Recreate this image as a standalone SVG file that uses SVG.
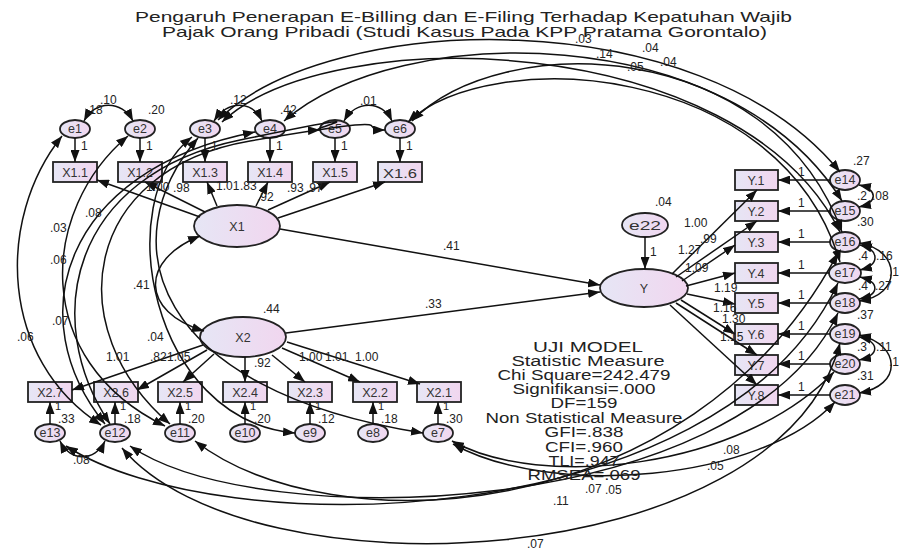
<svg xmlns="http://www.w3.org/2000/svg" width="899" height="551" viewBox="0 0 899 551">
<defs>
<linearGradient id="g" x1="0" y1="0" x2="1" y2="0"><stop offset="0" stop-color="#e6e6f5"/><stop offset="1" stop-color="#f1d6ef"/></linearGradient>
<marker id="ah" viewBox="0 0 12 9" refX="12" refY="4.5" markerWidth="12" markerHeight="9" markerUnits="userSpaceOnUse" orient="auto-start-reverse"><path d="M0,0 L12,4.5 L0,9 z" fill="#111"/></marker>
<style>
.n{fill:url(#g);stroke:#222;stroke-width:1.8}
.t{font-family:"Liberation Sans",Arial,sans-serif;fill:#222}
.nt{font-family:"Liberation Sans",Arial,sans-serif;fill:#333;font-size:12.5px;text-anchor:middle}
.lb{font-family:"Liberation Sans",Arial,sans-serif;fill:#222;font-size:12px}
.c{fill:none;stroke:#111;stroke-width:1.5}
.a{marker-end:url(#ah)}
.d{marker-start:url(#ah);marker-end:url(#ah)}
</style>
</defs>
<rect width="899" height="551" fill="#fff"/>
<g id="title" class="t" font-size="14.5">
<text x="135" y="22" textLength="657" lengthAdjust="spacingAndGlyphs">Pengaruh Penerapan E-Billing dan E-Filing Terhadap Kepatuhan Wajib</text>
<text x="162" y="37" textLength="605" lengthAdjust="spacingAndGlyphs">Pajak Orang Pribadi (Studi Kasus Pada KPP Pratama Gorontalo)</text>
</g>
<g id="nodes">
<g id="e1"><ellipse class="n" cx="75" cy="129" rx="15" ry="9"/><text class="nt" x="75" y="133" font-size="11.5">e1</text></g>
<g id="e2"><ellipse class="n" cx="140" cy="129" rx="15" ry="9"/><text class="nt" x="140" y="133" font-size="11.5">e2</text></g>
<g id="e3"><ellipse class="n" cx="205" cy="129" rx="15" ry="9"/><text class="nt" x="205" y="133" font-size="11.5">e3</text></g>
<g id="e4"><ellipse class="n" cx="270" cy="129" rx="15" ry="9"/><text class="nt" x="270" y="133" font-size="11.5">e4</text></g>
<g id="e5"><ellipse class="n" cx="335" cy="129" rx="15" ry="9"/><text class="nt" x="335" y="133" font-size="11.5">e5</text></g>
<g id="e6"><ellipse class="n" cx="400" cy="129" rx="15" ry="9"/><text class="nt" x="400" y="133" font-size="11.5">e6</text></g>
<g id="X1.1"><rect class="n" x="53" y="162" width="44" height="20"/><text class="nt" x="75" y="177">X1.1</text></g>
<g id="X1.2"><rect class="n" x="118" y="162" width="44" height="20"/><text class="nt" x="140" y="177">X1.2</text></g>
<g id="X1.3"><rect class="n" x="183" y="162" width="44" height="20"/><text class="nt" x="205" y="177">X1.3</text></g>
<g id="X1.4"><rect class="n" x="248" y="162" width="44" height="20"/><text class="nt" x="270" y="177">X1.4</text></g>
<g id="X1.5"><rect class="n" x="313" y="162" width="44" height="20"/><text class="nt" x="335" y="177">X1.5</text></g>
<g id="X1.6"><rect class="n" x="378" y="162" width="44" height="20"/><text class="nt" x="400" y="178" font-size="16" textLength="34" lengthAdjust="spacingAndGlyphs">X1.6</text></g>
<g id="X1"><ellipse class="n" cx="237" cy="226" rx="43" ry="21"/><text class="nt" x="237" y="231" font-size="15">X1</text></g>
<g id="X2"><ellipse class="n" cx="243" cy="337" rx="43" ry="20"/><text class="nt" x="243" y="342" font-size="15">X2</text></g>
<g id="X2.7"><rect class="n" x="28" y="382" width="44" height="20"/><text class="nt" x="50" y="397">X2.7</text></g>
<g id="X2.6"><rect class="n" x="94" y="382" width="44" height="20"/><text class="nt" x="116" y="397">X2.6</text></g>
<g id="X2.5"><rect class="n" x="158" y="382" width="44" height="20"/><text class="nt" x="180" y="397">X2.5</text></g>
<g id="X2.4"><rect class="n" x="223" y="382" width="44" height="20"/><text class="nt" x="245" y="397">X2.4</text></g>
<g id="X2.3"><rect class="n" x="288" y="382" width="44" height="20"/><text class="nt" x="310" y="397">X2.3</text></g>
<g id="X2.2"><rect class="n" x="353" y="382" width="44" height="20"/><text class="nt" x="375" y="397">X2.2</text></g>
<g id="X2.1"><rect class="n" x="417" y="382" width="44" height="20"/><text class="nt" x="439" y="397">X2.1</text></g>
<g id="e13"><ellipse class="n" cx="50" cy="433" rx="15" ry="9"/><text class="nt" x="50" y="437" font-size="11.5">e13</text></g>
<g id="e12"><ellipse class="n" cx="115" cy="433" rx="15" ry="9"/><text class="nt" x="115" y="437" font-size="11.5">e12</text></g>
<g id="e11"><ellipse class="n" cx="180" cy="433" rx="15" ry="9"/><text class="nt" x="180" y="437" font-size="11.5">e11</text></g>
<g id="e10"><ellipse class="n" cx="245" cy="433" rx="15" ry="9"/><text class="nt" x="245" y="437" font-size="11.5">e10</text></g>
<g id="e9"><ellipse class="n" cx="310" cy="433" rx="15" ry="9"/><text class="nt" x="310" y="437" font-size="11.5">e9</text></g>
<g id="e8"><ellipse class="n" cx="373" cy="433" rx="15" ry="9"/><text class="nt" x="373" y="437" font-size="11.5">e8</text></g>
<g id="e7"><ellipse class="n" cx="438" cy="433" rx="15" ry="9"/><text class="nt" x="438" y="437" font-size="11.5">e7</text></g>
<g id="e22"><ellipse class="n" cx="645" cy="225" rx="23" ry="12"/><text class="nt" x="645" y="230" font-size="15" textLength="32" lengthAdjust="spacingAndGlyphs">e22</text></g>
<g id="Y"><ellipse class="n" cx="644" cy="288" rx="44" ry="19"/><text class="nt" x="644" y="293" font-size="15">Y</text></g>
<g id="Y.1"><rect class="n" x="735" y="170" width="43" height="20"/><text class="nt" x="756" y="185" font-size="13">Y.1</text></g>
<g id="Y.2"><rect class="n" x="735" y="201" width="43" height="20"/><text class="nt" x="756" y="216" font-size="13">Y.2</text></g>
<g id="Y.3"><rect class="n" x="735" y="232" width="43" height="20"/><text class="nt" x="756" y="247" font-size="13">Y.3</text></g>
<g id="Y.4"><rect class="n" x="735" y="263" width="43" height="20"/><text class="nt" x="756" y="278" font-size="13">Y.4</text></g>
<g id="Y.5"><rect class="n" x="735" y="293" width="43" height="20"/><text class="nt" x="756" y="308" font-size="13">Y.5</text></g>
<g id="Y.6"><rect class="n" x="735" y="324" width="43" height="20"/><text class="nt" x="756" y="339" font-size="13">Y.6</text></g>
<g id="Y.7"><rect class="n" x="735" y="355" width="43" height="20"/><text class="nt" x="756" y="370" font-size="13">Y.7</text></g>
<g id="Y.8"><rect class="n" x="735" y="385" width="43" height="20"/><text class="nt" x="756" y="400" font-size="13">Y.8</text></g>
<g id="e14"><ellipse class="n" cx="845" cy="180" rx="15" ry="10"/><text class="nt" x="845" y="184" font-size="12">e14</text></g>
<g id="e15"><ellipse class="n" cx="845" cy="211" rx="15" ry="10"/><text class="nt" x="845" y="215" font-size="12">e15</text></g>
<g id="e16"><ellipse class="n" cx="845" cy="242" rx="15" ry="10"/><text class="nt" x="845" y="246" font-size="12">e16</text></g>
<g id="e17"><ellipse class="n" cx="845" cy="273" rx="16" ry="10"/><text class="nt" x="845" y="277" font-size="12">e17</text></g>
<g id="e18"><ellipse class="n" cx="845" cy="303" rx="15" ry="10"/><text class="nt" x="845" y="307" font-size="12">e18</text></g>
<g id="e19"><ellipse class="n" cx="845" cy="334" rx="15" ry="10"/><text class="nt" x="845" y="338" font-size="12">e19</text></g>
<g id="e20"><ellipse class="n" cx="845" cy="364" rx="15" ry="10"/><text class="nt" x="845" y="368" font-size="12">e20</text></g>
<g id="e21"><ellipse class="n" cx="845" cy="395" rx="15" ry="10"/><text class="nt" x="845" y="399" font-size="12">e21</text></g>
</g>
<g id="connectors">
<path class="c a" d="M75,138 L75,162"/><path class="c a" d="M140,138 L140,162"/><path class="c a" d="M205,138 L205,162"/><path class="c a" d="M270,138 L270,162"/><path class="c a" d="M335,138 L335,162"/><path class="c a" d="M400,138 L400,162"/>
<path class="c a" d="M200,217 L97,180"/><path class="c a" d="M205,212 L145,182"/><path class="c a" d="M217,206 L207,182"/><path class="c a" d="M256,206 L268,182"/><path class="c a" d="M268,210 L330,182"/><path class="c a" d="M278,218 L385,182"/>
<path class="c a" d="M203,345 L72,390"/><path class="c a" d="M207,350 L137,390"/><path class="c a" d="M214,354 L183,382"/><path class="c a" d="M245,357 L245,382"/><path class="c a" d="M272,355 L305,382"/><path class="c a" d="M282,348 L360,382"/><path class="c a" d="M287,342 L420,384"/>
<path class="c a" d="M50,424 L50,402"/><path class="c a" d="M115,424 L115,402"/><path class="c a" d="M180,424 L180,402"/><path class="c a" d="M245,424 L245,402"/><path class="c a" d="M310,424 L310,402"/><path class="c a" d="M373,424 L373,402"/><path class="c a" d="M438,424 L438,402"/>
<path class="c a" d="M280,229 L600,285"/><path class="c a" d="M286,333 L600,292"/>
<path class="c a" d="M645,237 L645,269"/>
<path class="c a" d="M672,274 L757,190"/><path class="c a" d="M676,277 L757,221"/><path class="c a" d="M682,281 L735,245"/><path class="c a" d="M686,286 L735,273"/><path class="c a" d="M687,294 L735,304"/><path class="c a" d="M681,300 L735,334"/><path class="c a" d="M676,303 L757,355"/><path class="c a" d="M670,305 L757,385"/>
<path class="c a" d="M830,180 L778,180"/><path class="c a" d="M830,211 L778,211"/><path class="c a" d="M830,242 L778,242"/><path class="c a" d="M829,273 L778,273"/><path class="c a" d="M830,303 L778,303"/><path class="c a" d="M830,334 L778,334"/><path class="c a" d="M830,364 L778,364"/><path class="c a" d="M830,395 L778,395"/>
<path class="c d" d="M84,121 C95,100 122,100 133,121"/>
<path class="c d" d="M214,121 C228,100 252,100 262,121"/>
<path class="c d" d="M344,121 C356,100 382,100 392,121"/>
<path class="c d" d="M200,236 C140,260 140,312 204,331"/>
<path class="c d" d="M60,441 C70,462 95,462 105,441"/>
<path class="c d" d="M859,185 C878,189 878,203 859,207"/>
<path class="c d" d="M860,245 C880,250 880,265 860,270"/>
<path class="c d" d="M859,243 C902,250 902,296 859,301"/>
<path class="c d" d="M860,277 C880,282 880,295 859,299"/>
<path class="c d" d="M859,337 C880,341 880,356 859,360"/>
<path class="c d" d="M859,335 C902,345 902,386 859,393"/>
<path class="c d" d="M62,136 C-5,220 0,360 101,425"/>
<path class="c d" d="M128,136 C40,210 30,360 165,426"/>
<path class="c d" d="M105,424 C20,320 60,170 255,132"/>
<path class="c d" d="M110,424 C40,320 70,175 240,140 S300,131 320,130"/>
<path class="c d" d="M170,424 C60,330 80,170 250,141 S350,130 385,130"/>
<path class="c d" d="M192,137 C110,200 150,420 295,433"/>
<path class="c d" d="M198,138 C110,240 150,390 423,433"/>
<path class="c d" d="M218,120 C330,10 700,0 840,172"/>
<path class="c d" d="M284,121 C400,20 730,20 842,201"/>
<path class="c d" d="M222,122 C330,20 740,30 840,232"/>
<path class="c d" d="M412,121 C500,30 770,35 842,232"/>
<path class="c d" d="M408,122 C490,45 780,60 840,262"/>
<path class="c d" d="M66,446 C220,545 720,535 838,283"/>
<path class="c d" d="M130,446 C260,535 740,520 838,313"/>
<path class="c d" d="M122,448 C250,600 780,575 840,343"/>
<path class="c d" d="M195,441 C330,545 690,530 838,253"/>
<path class="c d" d="M452,441 C540,490 740,470 834,372"/>
<path class="c d" d="M453,444 C550,498 760,482 835,402"/>
</g>
<g id="labels" class="lb">
<text x="100" y="104">.10</text><text x="86" y="114">.18</text><text x="148" y="114">.20</text><text x="230" y="104">.12</text><text x="280" y="114">.42</text><text x="360" y="105">.01</text>
<text x="81" y="150">1</text><text x="146" y="150">1</text><text x="211" y="150">1</text><text x="276" y="150">1</text><text x="341" y="150">1</text><text x="406" y="150">1</text>
<text x="146" y="191">1.00</text><text x="173" y="192">.98</text><text x="216" y="190">1.01</text><text x="240" y="190">.83</text><text x="257" y="201">.92</text><text x="287" y="192">.93</text><text x="306" y="192">.97</text>
<text x="85" y="217">.08</text><text x="50" y="232">.03</text><text x="50" y="264">.06</text><text x="52" y="325">.07</text><text x="17" y="341">.06</text><text x="147" y="341">.04</text><text x="133" y="289">.41</text>
<text x="263" y="313">.44</text>
<text x="106" y="361">1.01</text><text x="150" y="361">.82</text><text x="167" y="361">1.05</text><text x="254" y="367">.92</text><text x="299" y="361">1.00</text><text x="325" y="361">1.01</text><text x="355" y="361">1.00</text>
<g font-size="11"><text x="55" y="410">1</text><text x="120" y="410">1</text><text x="185" y="410">1</text><text x="250" y="410">1</text><text x="315" y="410">1</text><text x="378" y="410">1</text><text x="443" y="410">1</text></g>
<text x="58" y="423">.33</text><text x="124" y="423">.18</text><text x="188" y="423">.20</text><text x="254" y="423">.20</text><text x="318" y="423">.12</text><text x="381" y="423">.18</text><text x="446" y="423">.30</text>
<text x="73" y="464">.08</text>
<text x="443" y="250">.41</text><text x="425" y="308">.33</text>
<text x="655" y="206">.04</text><text x="650" y="256">1</text>
<text x="684" y="227">1.00</text><text x="700" y="243">.99</text><text x="678" y="254">1.27</text><text x="685" y="272">1.09</text><text x="714" y="292">1.19</text><text x="713" y="312">1.16</text><text x="722" y="323">1.30</text><text x="720" y="341">1.15</text>
<text x="798" y="176">1</text><text x="798" y="207">1</text><text x="798" y="238">1</text><text x="798" y="269">1</text><text x="798" y="299">1</text><text x="798" y="330">1</text><text x="798" y="360">1</text><text x="798" y="391">1</text>
<text x="853" y="165">.27</text><text x="857" y="200">.2</text><text x="872" y="200">.08</text><text x="857" y="226">.30</text><text x="858" y="260">.4</text><text x="876" y="260">.16</text><text x="889" y="276">.1</text><text x="858" y="290">.4</text><text x="875" y="290">.27</text><text x="857" y="319">.37</text><text x="857" y="351">.3</text><text x="876" y="351">.11</text><text x="889" y="366">.1</text><text x="857" y="380">.31</text>
<text x="575" y="43">.03</text><text x="596" y="58">.14</text><text x="642" y="52">.04</text><text x="627" y="71">.05</text><text x="660" y="66">.04</text>
<text x="723" y="454">.08</text><text x="707" y="470">.05</text><text x="585" y="493">.07</text><text x="605" y="494">.05</text><text x="553" y="505">.11</text><text x="527" y="548">.07</text>
</g>
<g id="fit" class="t" font-size="14" text-anchor="middle">
<text x="588" y="352" textLength="110" lengthAdjust="spacingAndGlyphs">UJI MODEL</text>
<text x="588" y="366" textLength="153" lengthAdjust="spacingAndGlyphs">Statistic Measure</text>
<text x="584" y="380" textLength="173" lengthAdjust="spacingAndGlyphs">Chi Square=242.479</text>
<text x="584" y="394" textLength="143" lengthAdjust="spacingAndGlyphs">Signifikansi=.000</text>
<text x="584" y="408" textLength="67" lengthAdjust="spacingAndGlyphs">DF=159</text>
<text x="584" y="423" textLength="197" lengthAdjust="spacingAndGlyphs">Non Statistical Measure</text>
<text x="584" y="437" textLength="79" lengthAdjust="spacingAndGlyphs">GFI=.838</text>
<text x="584" y="452" textLength="78" lengthAdjust="spacingAndGlyphs">CFI=.960</text>
<text x="584" y="466" textLength="71" lengthAdjust="spacingAndGlyphs">TLI=.947</text>
<text x="584" y="480" textLength="113" lengthAdjust="spacingAndGlyphs">RMSEA=.069</text>
</g>
</svg>
